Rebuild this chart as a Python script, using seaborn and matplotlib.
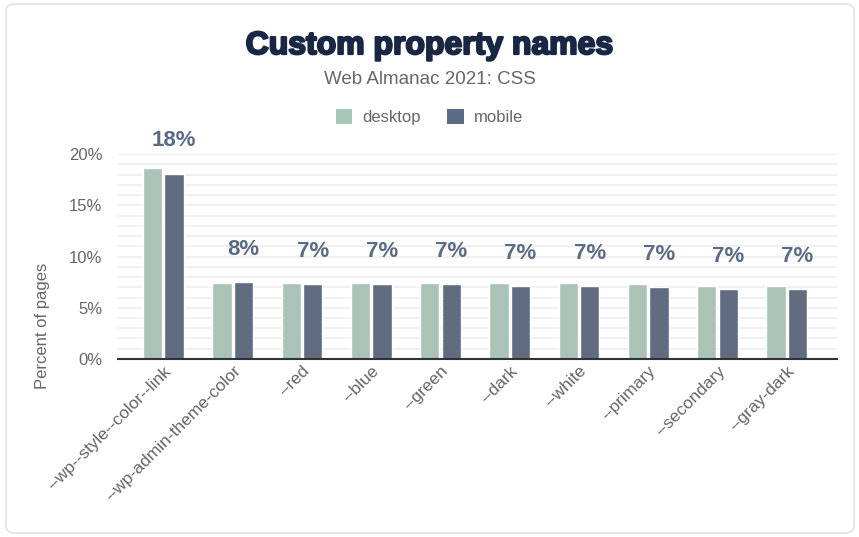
import pandas as pd
import matplotlib.pyplot as plt
import matplotlib.patheffects as pe
import seaborn as sns
from matplotlib.patches import FancyBboxPatch, Patch
from matplotlib.ticker import MultipleLocator, FuncFormatter

# Data (percent of pages)
properties = ["--wp--style--color--link", "--wp-admin-theme-color", "--red", "--blue",
              "--green", "--dark", "--white", "--primary", "--secondary", "--gray-dark"]
desktop = [18.66, 7.38, 7.38, 7.38, 7.38, 7.38, 7.38, 7.28, 7.12, 7.12]
mobile = [18.10, 7.54, 7.28, 7.28, 7.28, 7.12, 7.12, 6.99, 6.83, 6.83]

clients = ["desktop", "mobile"]
colors = {"desktop": "#a7c7b7", "mobile": "#5c6b85"}

df = pd.DataFrame({
    "property": properties * 2,
    "client": ["desktop"] * len(properties) + ["mobile"] * len(properties),
    "pct": desktop + mobile,
})

sns.set_theme(style="white")
plt.rcParams["font.family"] = ["Liberation Sans", "DejaVu Sans"]

fig = plt.figure(figsize=(8.59, 5.37), dpi=100)
ax = fig.add_axes([0.137, 0.3315, 0.837, 0.3815])

# card border
fig.patches.append(FancyBboxPatch((6 / 859, 4 / 537), 848 / 859, 529 / 537,
                                  boxstyle="round,pad=0,rounding_size=0.012",
                                  transform=fig.transFigure, fill=False,
                                  edgecolor="#e2e2e2", linewidth=1.2))

sns.barplot(data=df, x="property", y="pct", hue="client", hue_order=clients,
            palette=colors, width=0.62, gap=0.1, ax=ax, legend=False)

ax.set_ylim(0, 20)
ax.set_xlim(-0.66, 9.72)
ax.yaxis.set_major_locator(MultipleLocator(5))
ax.yaxis.set_minor_locator(MultipleLocator(1))
ax.yaxis.set_major_formatter(FuncFormatter(lambda v, _: f"{v:.0f}%"))
ax.grid(True, which="both", axis="y", color="#eeeeee", linewidth=1.2)
ax.set_axisbelow(True)
for s in ["top", "right", "left"]:
    ax.spines[s].set_visible(False)
ax.spines["bottom"].set_color("#333333")
ax.spines["bottom"].set_linewidth(1.5)
ax.tick_params(axis="both", which="both", length=0)
ax.tick_params(axis="y", labelsize=12, labelcolor="#666666", pad=11)
ax.tick_params(axis="x", labelsize=12.5, labelcolor="#666666", pad=3)
ax.set_xticks(range(len(properties)))
ax.set_xticklabels(properties, rotation=45, ha="right", rotation_mode="anchor")
ax.set_xlabel("")
ax.set_ylabel("")

# value labels above the mobile bars
mob = ax.containers[1]
ax.bar_label(mob, labels=[f"{v:.0f}%" for v in mobile], padding=16,
             fontsize=16, fontweight="bold", color="#5c6b85", clip_on=False)

fig.text(42 / 859, 1 - 326 / 537, "Percent of pages", rotation=90, ha="center",
         va="center", fontsize=12, color="#666666")

title = fig.text(0.5, 1 - 46 / 537, "Custom property names", ha="center", va="center",
                 fontsize=23, fontweight="bold", color="#1a2744")
title.set_path_effects([pe.Stroke(linewidth=1.6, foreground="#1a2744"), pe.Normal()])
fig.text(0.5, 1 - 79 / 537, "Web Almanac 2021: CSS", ha="center", va="center",
         fontsize=13.5, color="#666666")

handles = [Patch(facecolor=colors[c], edgecolor="none", label=c) for c in clients]
fig.legend(handles=handles, loc="center", bbox_to_anchor=(0.5, 1 - 117 / 537), ncol=2,
           frameon=False, fontsize=12, handlelength=1.0, handleheight=1.0,
           handletextpad=0.6, columnspacing=1.6, labelcolor="#666666")

fig.savefig("out.png", dpi=100)
